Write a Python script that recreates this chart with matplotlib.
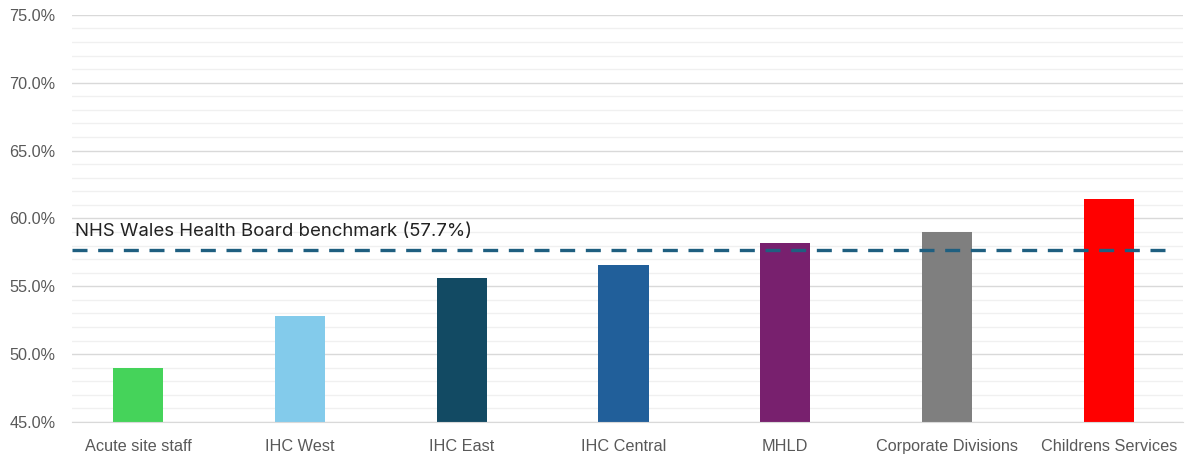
import numpy as np
import matplotlib.pyplot as plt
from matplotlib.ticker import MultipleLocator, FuncFormatter

# staff groups and their rate (%)
groups = ["Acute site staff", "IHC West", "IHC East", "IHC Central", "MHLD",
          "Corporate Divisions", "Childrens Services"]
rates = [49.0, 52.8, 55.6, 56.6, 58.2, 59.0, 61.4]
colours = ["#45D35A", "#83CBEB", "#124A63", "#215F9A", "#78206E", "#7F7F7F", "#FF0000"]
benchmark = 57.7

fig = plt.figure(figsize=(11.87, 4.58), dpi=100)
ax = fig.add_axes([0.0607, 0.0786, 0.936, 0.889])

x = np.arange(len(groups))
ax.bar(x, rates, width=0.31, color=colours, bottom=0, zorder=3)

# benchmark line + label
ax.hlines(benchmark, -0.41, len(groups) - 0.63, colors="#1F5F80",
          linestyles=(0, (4.5, 3.2)), linewidth=2.4, zorder=4)
ax.text(-0.39, benchmark + 0.7, f"NHS Wales Health Board benchmark ({benchmark}%)",
        fontsize=13.4, color="#222222", family="Inter", va="bottom", ha="left")

ax.set_ylim(45, 75)
ax.set_xlim(-0.41, len(groups) - 0.54)
ax.yaxis.set_major_locator(MultipleLocator(5))
ax.yaxis.set_minor_locator(MultipleLocator(1))
ax.yaxis.set_major_formatter(FuncFormatter(lambda v, p: f"{v:.1f}%"))
ax.grid(axis="y", which="major", color="#D9D9D9", linewidth=1.0, zorder=0)
ax.grid(axis="y", which="minor", color="#F0F0F0", linewidth=1.0, zorder=0)

ax.set_xticks(x)
ax.set_xticklabels(groups)
for lab in ax.get_xticklabels() + ax.get_yticklabels():
    lab.set_family("Liberation Sans")
    lab.set_fontsize(11.7)
    lab.set_color("#595959")
ax.tick_params(axis="both", which="both", length=0)
ax.tick_params(axis="x", pad=12)
ax.tick_params(axis="y", pad=12)

for s in ["top", "right", "left"]:
    ax.spines[s].set_visible(False)
ax.spines["bottom"].set_color("#D9D9D9")
ax.spines["bottom"].set_zorder(5)

fig.savefig("out.png", dpi=100)
